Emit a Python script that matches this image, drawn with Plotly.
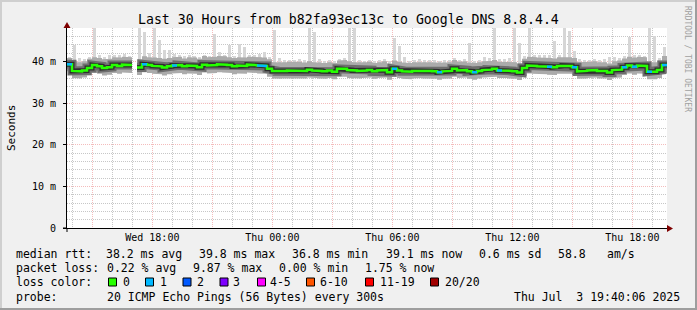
import plotly.graph_objects as go
from datetime import datetime, timedelta

# ---------------- data ----------------
t_start = datetime(2025, 7, 2, 13, 44)
step_minutes = 15
n_bins = 120

median_ms = [
    39.3, 37.7, 37.6, 37.8, 38.4, 39.1, 38.8, 38.4, 38.6, 39.1, 38.9, 39.2,
    39.1, None, 38.5, 39.3, 39.1, 38.9, 38.8, 38.5, 38.8, 39.0, 39.1, 38.8,
    39.0, 38.9, 38.6, 39.2, 39.0, 39.1, 39.3, 39.2, 39.1, 38.8, 39.0, 38.9,
    39.2, 39.1, 39.0, 38.9, 38.2, 37.7, 37.6, 37.7, 37.8, 37.7, 37.8, 37.7,
    38.0, 37.8, 37.7, 37.6, 37.8, 37.5, 38.2, 38.2, 37.9, 37.8, 37.7, 37.8,
    37.9, 37.6, 37.8, 37.9, 37.4, 38.2, 37.8, 37.6, 37.5, 37.7, 37.8, 37.7,
    37.7, 37.6, 37.4, 37.6, 37.7, 38.2, 37.8, 37.9, 37.6, 37.4, 37.7, 37.9,
    38.0, 38.2, 37.8, 37.8, 37.7, 37.6, 37.3, 38.4, 39.0, 38.9, 38.8, 38.8,
    38.7, 38.6, 38.9, 39.0, 38.9, 38.6, 37.6, 37.7, 37.8, 37.9, 37.7, 37.7,
    37.3, 37.9, 38.0, 38.6, 39.0, 38.7, 39.0, 38.9, 37.5, 37.5, 37.9, 39.1,
]
smoke_high_ms = [
    40.8, 40.0, 39.8, 40.0, 40.6, 41.0, 40.8, 40.5, 40.6, 41.0, 40.9, 41.1,
    41.0, None, 40.5, 41.2, 41.0, 40.9, 40.8, 40.6, 40.8, 41.0, 41.1, 40.7,
    41.0, 40.9, 40.6, 41.3, 41.0, 41.1, 41.3, 41.2, 41.0, 40.8, 41.0, 40.9,
    41.1, 41.0, 41.0, 40.9, 40.5, 39.8, 39.7, 39.8, 39.9, 39.8, 39.9, 39.7,
    40.0, 39.8, 39.7, 39.6, 39.8, 39.6, 40.2, 40.3, 40.0, 39.8, 39.7, 39.8,
    39.9, 39.6, 39.8, 40.0, 39.5, 40.2, 39.9, 39.7, 39.6, 39.8, 39.9, 39.8,
    39.8, 39.7, 39.6, 39.7, 39.8, 40.3, 39.9, 40.0, 39.7, 39.6, 39.8, 40.0,
    40.1, 40.3, 39.9, 39.9, 39.8, 39.8, 39.5, 40.6, 41.1, 41.0, 40.9, 40.9,
    40.8, 40.7, 41.0, 41.1, 41.0, 40.8, 39.8, 39.8, 39.9, 40.0, 39.8, 39.8,
    39.5, 40.0, 40.2, 40.7, 41.1, 40.9, 41.1, 41.0, 39.7, 39.8, 40.2, 41.3,
]
smoke_low_ms = [
    37.6, 36.0, 35.9, 36.1, 36.6, 37.2, 37.0, 36.6, 36.8, 37.2, 37.0, 37.3,
    37.2, None, 36.7, 37.4, 37.2, 37.0, 36.9, 36.6, 36.9, 37.1, 37.2, 36.9,
    37.1, 37.0, 36.7, 37.3, 37.1, 37.2, 37.4, 37.3, 37.2, 36.9, 37.1, 37.0,
    37.3, 37.2, 37.1, 37.0, 36.3, 35.9, 35.8, 35.9, 36.0, 35.9, 36.0, 35.9,
    36.1, 36.0, 35.9, 35.8, 36.0, 35.7, 36.3, 36.3, 36.0, 36.0, 35.9, 36.0,
    36.1, 35.8, 36.0, 36.1, 35.6, 36.3, 36.0, 35.8, 35.7, 35.9, 36.0, 35.9,
    35.9, 35.8, 35.6, 35.8, 35.9, 36.3, 36.0, 36.1, 35.8, 35.6, 35.9, 36.1,
    36.2, 36.3, 36.0, 36.0, 35.9, 35.8, 35.5, 36.5, 37.1, 37.0, 36.9, 36.9,
    36.8, 36.7, 37.0, 37.1, 37.0, 36.7, 35.8, 35.9, 36.0, 36.1, 35.9, 35.9,
    35.5, 36.0, 36.1, 36.7, 37.1, 36.8, 37.1, 37.0, 35.7, 35.7, 36.0, 37.2,
]
ping_max_ms = [
    41.0, 43.9, 40.8, 40.5, 41.0, 48.0, 41.5, 41.0, 41.5, 41.5, 41.5, 41.8,
    41.3, None, 48.0, 47.1, 42.0, 48.0, 45.1, 42.7, 42.7, 41.8, 41.5, 41.3,
    41.5, 41.3, 41.0, 41.5, 41.3, 46.5, 42.3, 41.5, 44.0, 41.3, 44.2, 43.4,
    41.5, 41.5, 41.8, 42.2, 41.0, 47.5, 40.8, 40.3, 40.3, 40.3, 40.5, 40.3,
    48.0, 47.0, 40.5, 40.2, 40.3, 40.2, 40.6, 40.7, 48.0, 48.0, 40.3, 40.2,
    40.4, 40.2, 40.3, 40.5, 40.2, 45.5, 43.7, 41.0, 40.2, 40.4, 40.6, 40.4,
    40.3, 40.3, 40.2, 40.3, 40.3, 40.8, 40.4, 40.6, 44.3, 40.2, 40.4, 41.0,
    40.8, 48.0, 40.5, 40.6, 40.8, 48.0, 44.5, 41.3, 48.0, 41.5, 41.5, 41.5,
    41.5, 45.0, 41.5, 48.0, 47.4, 42.5, 40.5, 40.3, 40.4, 40.5, 40.4, 40.5,
    41.1, 41.0, 40.8, 41.3, 45.8, 41.5, 41.6, 41.4, 48.0, 46.0, 40.8, 43.4,
]
loss_count = [
    1, 0, 0, 0, 0, 0, 0, 0, 0, 0, 0, 0,
    0, 0, 0, 1, 0, 0, 0, 0, 0, 1, 0, 0,
    0, 0, 0, 0, 0, 0, 0, 0, 0, 0, 0, 0,
    0, 0, 1, 1, 0, 0, 0, 0, 0, 0, 0, 0,
    0, 0, 0, 0, 0, 0, 0, 0, 0, 0, 0, 0,
    0, 0, 0, 0, 0, 1, 0, 0, 0, 0, 0, 0,
    0, 0, 1, 0, 0, 0, 0, 0, 0, 1, 0, 0,
    0, 0, 1, 0, 0, 0, 0, 0, 0, 0, 0, 0,
    1, 0, 0, 0, 0, 1, 0, 0, 0, 0, 0, 0,
    0, 0, 0, 1, 0, 1, 0, 0, 1, 0, 0, 1,
]

x_tick_times = ["2025-07-02 15:00", "2025-07-02 18:00", "2025-07-02 21:00",
                "2025-07-03 00:00", "2025-07-03 03:00", "2025-07-03 06:00",
                "2025-07-03 09:00", "2025-07-03 12:00", "2025-07-03 15:00",
                "2025-07-03 18:00"]
x_tick_labels = ["", "Wed 18:00", "", "Thu 00:00", "", "Thu 06:00", "",
                 "Thu 12:00", "", "Thu 18:00"]
y_tick_values = [0, 10, 20, 30, 40]
y_tick_labels = ["0", "10 m", "20 m", "30 m", "40 m"]

loss_labels = ["0", "1", "2", "3", "4-5", "6-10", "11-19", "20/20"]
loss_colors = ["#26ff00", "#00b8ff", "#0059ff", "#7e00ff", "#ff00ff",
               "#ff5500", "#ff0000", "#a10000"]

title_text = "Last 30 Hours from b82fa93ec13c to Google DNS 8.8.4.4"
stat_rtt = ["median rtt:", "38.2 ms avg", "39.8 ms max", "36.8 ms min",
            "39.1 ms now", "0.6 ms sd", "58.8", "am/s"]
stat_loss = ["packet loss:", "0.22 % avg", "9.87 % max", "0.00 % min",
             "1.75 % now"]
probe_text = ["probe:", "20 ICMP Echo Pings (56 Bytes) every 300s",
              "Thu Jul\u00a0\u00a03 19:40:06 2025"]

# ---------------- helpers ----------------
T = [t_start + timedelta(minutes=step_minutes * i) for i in range(n_bins + 1)]
FONT = "DejaVu Sans Mono"
PL, PR, PT, PB = 67, 667, 28, 228  # plot area in pixels
W, H = 697, 310
MS_PER_PX = 30 * 3600 * 1000 / (PR - PL)


def px(x):
    return (x - PL) / (PR - PL)


def py(y):
    return (PB - y) / (PB - PT)


def step_line(vals, keep=None):
    xs, ys = [], []
    for i, v in enumerate(vals):
        if v is None or (keep is not None and not keep(i)):
            if xs and xs[-1] is not None:
                xs.append(None)
                ys.append(None)
            continue
        xs += [T[i], T[i + 1]]
        ys += [v, v]
    return xs, ys


def band(lo, hi):
    xs, ys = [], []
    segs, cur = [], []
    for i in range(n_bins):
        if lo[i] is None or hi[i] is None:
            if cur:
                segs.append(cur)
            cur = []
        else:
            cur.append(i)
    if cur:
        segs.append(cur)
    for s in segs:
        for i in s:
            xs += [T[i], T[i + 1]]
            ys += [hi[i], hi[i]]
        for i in reversed(s):
            xs += [T[i + 1], T[i]]
            ys += [lo[i], lo[i]]
        xs.append(None)
        ys.append(None)
    return xs, ys


fig = go.Figure()

# outliers (max ping) as thin light-grey streaks above the smoke
centers, bases, heights = [], [], []
for i in range(n_bins):
    if ping_max_ms[i] is None or smoke_high_ms[i] is None:
        continue
    centers.append(T[i] + timedelta(minutes=step_minutes / 2))
    bases.append(smoke_high_ms[i] - 0.5)
    heights.append(ping_max_ms[i] - smoke_high_ms[i] + 0.5)
fig.add_trace(go.Bar(x=centers, y=heights, base=bases, width=3 * MS_PER_PX,
                     marker=dict(color="#d6d6d6", line=dict(width=0)),
                     hoverinfo="skip"))

bx, by = band(smoke_low_ms, smoke_high_ms)
fig.add_trace(go.Scatter(x=bx, y=by, fill="toself", fillcolor="#ababab",
                         line=dict(width=0), mode="lines", hoverinfo="skip"))
mx, my = step_line(median_ms)
fig.add_trace(go.Scatter(x=mx, y=my, mode="lines", hoverinfo="skip",
                         line=dict(color="#6e6e6e", width=9)))
fig.add_trace(go.Scatter(x=mx, y=my, mode="lines", hoverinfo="skip",
                         line=dict(color="#2e2e2e", width=5)))
fig.add_trace(go.Scatter(x=mx, y=my, mode="lines", hoverinfo="skip",
                         line=dict(color=loss_colors[0], width=2.5)))
lx, ly = step_line(median_ms, keep=lambda i: loss_count[i] == 1)
fig.add_trace(go.Scatter(x=lx, y=ly, mode="lines", hoverinfo="skip",
                         line=dict(color=loss_colors[1], width=2.5)))

grid_minor = "rgba(143,143,143,0.5)"
grid_major = "rgba(222,48,47,0.32)"

x_alias = {datetime.fromisoformat(t).strftime("%a %H:%M"): lbl
           for t, lbl in zip(x_tick_times, x_tick_labels)}
y_alias = {f"{v} m": lbl for v, lbl in zip(y_tick_values, y_tick_labels)}

fig.update_layout(
    width=W, height=H, autosize=False,
    margin=dict(l=PL, r=W - PR, t=PT, b=H - PB, pad=0),
    paper_bgcolor="#F0F0F0", plot_bgcolor="#FFFFFF",
    showlegend=False, bargap=0,
    font=dict(family=FONT, size=10, color="#000000"),
    xaxis=dict(
        type="date", range=[T[0], T[-1]],
        tickmode="linear", tick0=x_tick_times[0], dtick=3 * 3600000,
        tickformat="%a %H:%M", labelalias=x_alias,
        showgrid=True, gridcolor=grid_major, griddash="1px,1px", gridwidth=1,
        ticks="",
        tickfont=dict(family=FONT, size=10),
        showline=True, linecolor="#000000", linewidth=1,
        zeroline=False,
        minor=dict(dtick=3600000, tick0="2025-07-02 00:00", showgrid=True,
                   gridcolor=grid_minor, griddash="1px,1px", gridwidth=1,
                   ticks=""),
    ),
    yaxis=dict(
        range=[0, 48], tickmode="linear", tick0=y_tick_values[0],
        dtick=y_tick_values[1] - y_tick_values[0],
        ticksuffix=" m", labelalias=y_alias,
        showgrid=True, gridcolor=grid_major, griddash="1px,1px", gridwidth=1,
        ticks="outside", ticklen=3, tickcolor="#000000",
        tickfont=dict(family=FONT, size=10),
        showline=True, linecolor="#000000", linewidth=1,
        zeroline=False, ticklabelstandoff=5,
        minor=dict(dtick=2, tick0=0, showgrid=True, gridcolor=grid_minor,
                   griddash="1px,1px", gridwidth=1, ticks=""),
    ),
)

shapes = []
# frame around the picture
shapes.append(dict(type="rect", xref="paper", yref="paper", x0=px(0), x1=px(W),
                   y0=py(0), y1=py(2), fillcolor="#CFCFCF", line=dict(width=0)))
shapes.append(dict(type="rect", xref="paper", yref="paper", x0=px(0), x1=px(2),
                   y0=py(0), y1=py(H), fillcolor="#CFCFCF", line=dict(width=0)))
shapes.append(dict(type="rect", xref="paper", yref="paper", x0=px(0), x1=px(W),
                   y0=py(H - 2), y1=py(H), fillcolor="#9E9E9E", line=dict(width=0)))
shapes.append(dict(type="rect", xref="paper", yref="paper", x0=px(W - 2), x1=px(W),
                   y0=py(0), y1=py(H), fillcolor="#9E9E9E", line=dict(width=0)))
# axis extensions and arrows
shapes.append(dict(type="line", xref="paper", yref="paper", x0=px(63), x1=px(PL),
                   y0=0, y1=0, line=dict(color="#000000", width=1)))
shapes.append(dict(type="line", xref="paper", yref="paper", x0=0, x1=0,
                   y0=py(232), y1=0, line=dict(color="#000000", width=1)))
shapes.append(dict(type="path", xref="paper", yref="paper",
                   path=f"M {px(667)},{py(225)} L {px(673)},{py(228.5)} L {px(667)},{py(232)} Z",
                   fillcolor="#7F0000", line=dict(width=0)))
shapes.append(dict(type="path", xref="paper", yref="paper",
                   path=f"M {px(63.5)},{py(28)} L {px(67)},{py(22)} L {px(70.5)},{py(28)} Z",
                   fillcolor="#7F0000", line=dict(width=0)))
# loss colour boxes
box_left = [108.5, 145.5, 183, 220, 257.5, 306.5, 365.5, 430.5]
label_left = [122, 159, 195.5, 232, 269, 318.5, 378.5, 444]
for bl, col in zip(box_left, loss_colors):
    shapes.append(dict(type="rect", xref="paper", yref="paper",
                       x0=px(bl), x1=px(bl + 8), y0=py(278), y1=py(286),
                       fillcolor=col, line=dict(color="#000000", width=1)))
fig.update_layout(shapes=shapes)

ann = []


def txt(s, x, y, size=11.5, anchor="left", **kw):
    ann.append(dict(text=s, x=px(x), y=py(y), xref="paper", yref="paper",
                    showarrow=False, xanchor=anchor, yanchor="middle",
                    font=dict(family=FONT, size=size, color=kw.get("color", "#000000")),
                    textangle=kw.get("angle", 0), borderpad=0))


txt(title_text, 348, 19, size=13.2, anchor="center")
txt("Seconds", 11, 128, size=11, anchor="center", angle=-90)
txt("RRDTOOL / TOBI OETIKER", 688, 59, size=8, anchor="center", angle=90,
    color="#a0a0a0")

rtt_x = [14.5, 105.2, 198.3, 291.4, 384.5, 477.6, 556.9, 605.5]
for s, x in zip(stat_rtt, rtt_x):
    txt(s, x, 254)
loss_x = [14.5, 105.8, 191.8, 277.8, 363.8]
for s, x in zip(stat_loss, loss_x):
    txt(s, x, 268)
txt("loss color:", 14.5, 282)
for s, x in zip(loss_labels, label_left):
    txt(s, x, 282)
txt(probe_text[0], 14.5, 297)
txt(probe_text[1], 105.8, 297)
txt(probe_text[2], 681, 297, anchor="right")
fig.update_layout(annotations=ann)

fig.write_html("out.html")
